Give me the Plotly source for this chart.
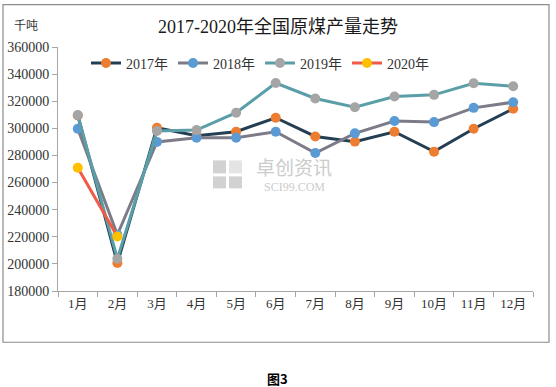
import plotly.graph_objects as go

months = ["1月", "2月", "3月", "4月", "5月", "6月", "7月", "8月", "9月", "10月", "11月", "12月"]
y2017 = [309500, 200600, 300400, 294500, 297500, 307800, 294000, 290200, 297500, 282800, 299700, 314400]
y2018 = [299700, 221500, 290000, 293100, 293100, 297500, 281800, 296300, 305400, 304600, 315100, 319300]
y2019 = [309800, 203800, 298000, 298700, 311500, 333400, 322000, 315600, 323500, 324700, 333300, 331000]
y2020 = [270900, 220200]
y_ticks = [180000, 200000, 220000, 240000, 260000, 280000, 300000, 320000, 340000, 360000]

series = [
    ("2017年", y2017, "#243f54", "#ed7d31"),
    ("2018年", y2018, "#7d7b88", "#5b9bd5"),
    ("2019年", y2019, "#5a9fa8", "#a5a5a5"),
    ("2020年", y2020, "#f05a47", "#ffc000"),
]

SERIF = "Liberation Serif, Noto Sans CJK SC"

fig = go.Figure()
for name, vals, lc, mc in series:
    fig.add_trace(go.Scatter(
        x=months[:len(vals)], y=vals, name=name, mode="lines+markers",
        line=dict(color=lc, width=3),
        marker=dict(color=mc, size=10, line=dict(width=0)),
    ))

W, H = 556, 387
ML, MR, MT, MB = 58, 23, 46.5, 96.3
PW, PH = W - ML - MR, H - MT - MB

def px(x):
    return (x - ML) / PW

def py(y):
    return 1 - (y - MT) / PH

shapes = [
    dict(type="rect", xref="paper", yref="paper", x0=px(3), x1=px(549), y0=py(342), y1=py(4),
         line=dict(color="#8c8c8c", width=1.2), fillcolor="rgba(0,0,0,0)", layer="below"),
]
# watermark logo squares
for (x0, y0, x1, y1, c) in [(213, 160, 226, 173, "#d2d2d2"), (229, 160, 242, 173, "#e4e4e4"),
                            (213, 176, 226, 188, "#d2d2d2"), (229, 176, 242, 188, "#d2d2d2")]:
    shapes.append(dict(type="rect", xref="paper", yref="paper", x0=px(x0), x1=px(x1),
                       y0=py(y1), y1=py(y0), line=dict(width=0), fillcolor=c, layer="below"))

def note(text, x, y, font):
    return dict(text=text, xref="paper", yref="paper", x=px(x), y=py(y), showarrow=False,
                xanchor="center", yanchor="middle", font=font)

annotations = [
    note("千吨", 26, 24, dict(family="Noto Sans CJK SC", size=12, color="#333333")),
    note("<b>图3</b>", 277, 378, dict(family="Noto Sans CJK SC", size=13, color="#000000")),
    note("卓创资讯", 294, 166, dict(family="Noto Sans CJK SC", size=19, color="#cccccc")),
    note("SCI99.COM", 294, 187, dict(family="Liberation Serif", size=12, color="#cccccc")),
]

fig.update_layout(
    width=W, height=H,
    margin=dict(l=ML, r=MR, t=MT, b=MB, autoexpand=False),
    paper_bgcolor="white", plot_bgcolor="white",
    title=dict(text="2017-2020年全国原煤产量走势", x=0.5, xref="container", xanchor="center",
               y=1 - 27 / H, yref="container", yanchor="middle",
               font=dict(family=SERIF, size=18, color="#1a1a1a")),
    font=dict(family=SERIF, color="#333333"),
    showlegend=True,
    legend=dict(orientation="h", x=px(86), xanchor="left", y=py(63), yanchor="middle",
                font=dict(family=SERIF, size=14, color="#333333"),
                bgcolor="rgba(0,0,0,0)", entrywidth=42, entrywidthmode="pixels",
                itemwidth=30, tracegroupgap=0),
    shapes=shapes,
    annotations=annotations,
    xaxis=dict(type="category", categoryorder="array", categoryarray=months,
               range=[-0.5, 11.5], showgrid=False, showline=True, linecolor="#a6a6a6",
               linewidth=1, ticks="outside", tickson="boundaries", ticklen=5,
               tickcolor="#a6a6a6", tickfont=dict(family=SERIF, size=13, color="#333333"),
               fixedrange=True, zeroline=False, automargin=False),
    yaxis=dict(range=[180000, 360000], tickvals=y_ticks, ticktext=[str(v) for v in y_ticks],
               showgrid=False, showline=True, linecolor="#a6a6a6", linewidth=1,
               ticks="outside", ticklen=5, tickcolor="#a6a6a6",
               tickfont=dict(family=SERIF, size=14, color="#333333"), zeroline=False,
               fixedrange=True, automargin=False),
)

fig.write_html("out.html", config={"displayModeBar": False},
               post_script="document.body.style.margin='0';document.body.style.overflow='hidden';")
